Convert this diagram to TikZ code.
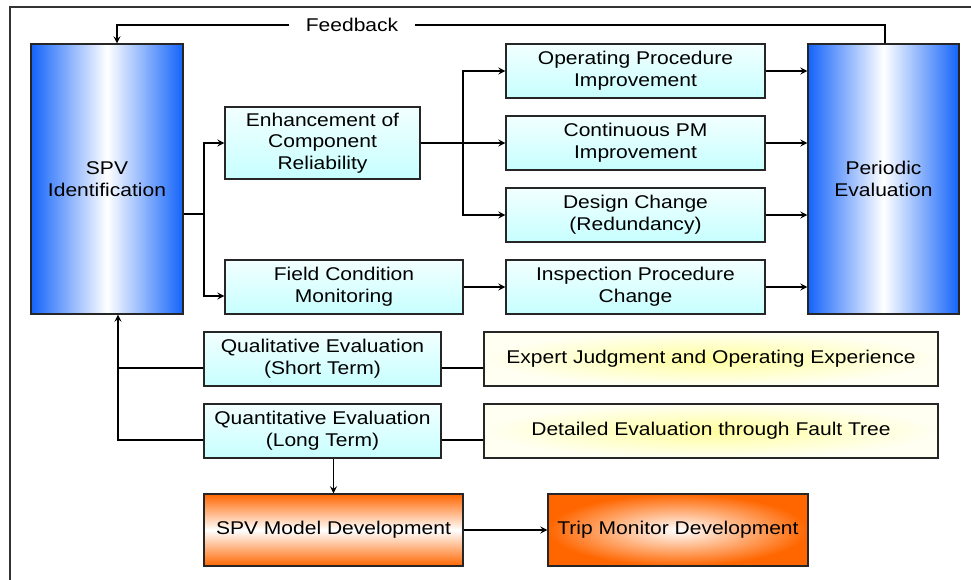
\documentclass[tikz,border=0pt]{standalone}
\usepackage{fontspec}
\setmainfont[FakeStretch=1.14]{Liberation Sans}
\usetikzlibrary{positioning}

\definecolor{spvblue}{RGB}{20,100,250}
\definecolor{devorange}{RGB}{255,102,0}

\begin{document}
\begin{tikzpicture}[
    x=0.02cm, y=-0.02cm,
    >=stealth,
    every node/.style={
        font=\fontsize{10.5}{12.3}\selectfont
    },
    box/.style={
        draw=black!85,
        line width=0.8pt,
        inner sep=0pt,
        align=center
    },
    tall/.style={
        box,
        minimum width=3.04cm,
        minimum height=5.4cm,
        left color=spvblue,
        right color=spvblue,
        middle color=white
    },
    action/.style={
        box,
        minimum width=5.18cm,
        minimum height=1.08cm,
        top color=cyan!5,
        bottom color=cyan!22
    },
    note/.style={
        box,
        minimum width=9.08cm,
        minimum height=1.08cm,
        inner color=yellow!38,
        outer color=yellow!5
    },
    arr/.style={
        ->,
        line width=0.75pt
    },
    wire/.style={
        line width=0.75pt
    }
]

    \useasboundingbox (0,0) rectangle (971,580);

    % frame
    \draw[line width=0.9pt, black!80] (10,580) -- (10,7) -- (971,7);

    % the two tall blocks
    \node[tall] (spv) at (107,179) {SPV\\Identification};
    \node[tall, minimum width=3.02cm] (periodic) at (883.5,179)
        {Periodic\\Evaluation};

    % improvement measures
    \node[action, minimum width=3.9cm, minimum height=1.44cm] (enhance)
        at (322.5,143) {Enhancement of\\Component\\Reliability};
    \node[action, minimum width=4.76cm] (field) at (344,287)
        {Field Condition\\Monitoring};

    \node[action] (operating) at (635.5,71)
        {Operating Procedure\\Improvement};
    \node[action] (continuous) at (635.5,143)
        {Continuous PM\\Improvement};
    \node[action] (design) at (635.5,215)
        {Design Change\\(Redundancy)};
    \node[action] (inspection) at (635.5,287)
        {Inspection Procedure\\Change};

    % evaluations
    \node[action, minimum width=4.74cm] (qualitative) at (322.5,359)
        {Qualitative Evaluation\\(Short Term)};
    \node[action, minimum width=4.74cm] (quantitative) at (322.5,431)
        {Quantitative Evaluation\\(Long Term)};

    \node[note] (expert) at (711,359)
        {Expert Judgment and Operating Experience};
    \node[note] (faulttree) at (711,431)
        {Detailed Evaluation through Fault Tree};

    % development
    \node[
        box,
        minimum width=5.18cm,
        minimum height=1.44cm,
        top color=devorange,
        bottom color=devorange,
        middle color=white
    ] (model) at (333.5,530) {SPV Model Development};

    \node[
        box,
        minimum width=5.2cm,
        minimum height=1.44cm,
        inner color=white,
        outer color=devorange
    ] (trip) at (678,530) {Trip Monitor Development};

    % branching out of SPV identification
    \coordinate (split) at (204,214);
    \coordinate (fieldin) at ([yshift=-0.18cm]field.west);
    \draw[wire] (split -| spv.east) -- (split);
    \draw[arr] (split) |- (enhance.west);
    \draw[arr] (split) |- (fieldin);

    % branching out of component reliability
    \coordinate (fork) at (463,143);
    \draw[wire] (enhance.east) -- (fork);
    \draw[arr] (fork) |- (operating.west);
    \draw[arr] (fork) |- (continuous.west);
    \draw[arr] (fork) |- (design.west);

    \draw[arr] (field.east) -- (inspection.west);

    \foreach \m in {operating, continuous, design, inspection}
        \draw[arr] (\m.east) -- (\m.east -| periodic.west);

    % feedback loop over the top
    \coordinate (fbright) at (885,25);
    \coordinate (fbleft) at (117,25);
    \draw[arr] (periodic.north -| fbright) -- (fbright)
        -- node[fill=white, inner xsep=0.34cm, pos=0.694] {Feedback}
        (fbleft) -- (fbleft |- spv.north);

    % evaluations back to SPV identification
    \coordinate (back) at ([xshift=0.22cm]spv.south);
    \coordinate (qualout) at ([yshift=-0.18cm]qualitative.west);
    \coordinate (quantout) at ([yshift=-0.18cm]quantitative.west);
    \draw[wire] (qualout) -- (qualout -| back);
    \draw[arr] (quantout) -| (back);

    \coordinate (qualin) at ([yshift=-0.18cm]qualitative.east);
    \coordinate (quantin) at ([yshift=-0.18cm]quantitative.east);
    \draw[wire] (qualin) -- (qualin -| expert.west);
    \draw[wire] (quantin) -- (quantin -| faulttree.west);

    \draw[arr] (quantitative.south -| model.north) -- (model.north);
    \draw[arr] (model.east) -- (trip.west);

\end{tikzpicture}
\end{document}
